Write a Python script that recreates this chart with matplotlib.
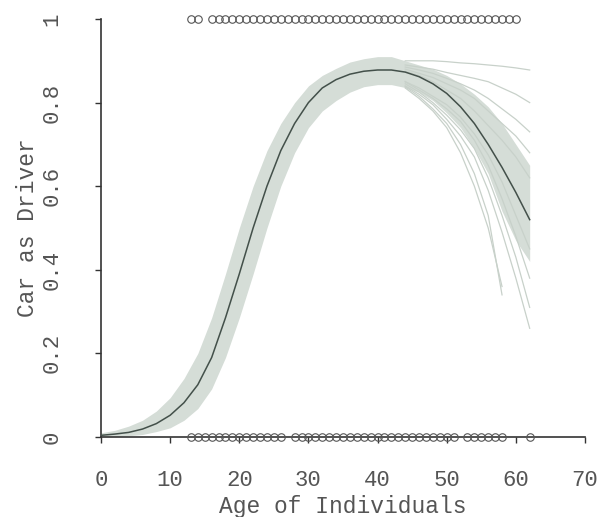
import matplotlib
matplotlib.use("Agg")
import matplotlib.pyplot as plt
import numpy as np

# ---- data ----
ages_driver = [13, 14] + list(range(16, 61))
ages_not_driver = list(range(13, 27)) + list(range(28, 52)) + list(range(53, 59)) + [62]

fit_ages = [0, 2, 4, 6, 8, 10, 12, 14, 16, 18, 20, 22, 24, 26, 28, 30,
            32, 34, 36, 38, 40, 42, 44, 46, 48, 50, 52, 54, 56, 58, 60, 62]
fit_prob = [0.004, 0.007, 0.011, 0.019, 0.032, 0.052, 0.082, 0.125, 0.19, 0.285, 0.39, 0.50,
            0.60, 0.685, 0.75, 0.80, 0.835, 0.855, 0.868, 0.875, 0.878, 0.878, 0.873, 0.862,
            0.845, 0.822, 0.79, 0.75, 0.70, 0.645, 0.585, 0.52]
band_lower = [0.000, 0.001, 0.003, 0.006, 0.013, 0.022, 0.040, 0.068, 0.115, 0.19, 0.285, 0.39,
              0.50, 0.60, 0.68, 0.74, 0.78, 0.805, 0.825, 0.838, 0.843, 0.843, 0.836, 0.825,
              0.805, 0.775, 0.74, 0.69, 0.63, 0.54, 0.47, 0.42]
band_upper = [0.010, 0.016, 0.026, 0.040, 0.062, 0.094, 0.14, 0.20, 0.285, 0.39, 0.50, 0.60,
              0.685, 0.75, 0.80, 0.84, 0.865, 0.882, 0.897, 0.905, 0.91, 0.91, 0.90, 0.89,
              0.88, 0.865, 0.845, 0.82, 0.79, 0.75, 0.70, 0.65]

fan_ages = [44, 46, 48, 50, 52, 54, 56, 58, 60, 62]
fan_lines = [
    [0.90, 0.90, 0.90, 0.898, 0.895, 0.893, 0.89, 0.887, 0.883, 0.878],
    [0.89, 0.885, 0.88, 0.872, 0.865, 0.858, 0.85, 0.835, 0.82, 0.80],
    [0.885, 0.878, 0.87, 0.858, 0.845, 0.83, 0.81, 0.785, 0.76, 0.73],
    [0.88, 0.87, 0.86, 0.845, 0.83, 0.81, 0.78, 0.75, 0.72, 0.68],
    [0.875, 0.865, 0.85, 0.83, 0.81, 0.78, 0.745, 0.71, 0.67, 0.62],
    [0.835, 0.81, 0.78, 0.74, 0.68, 0.60, 0.50, 0.36, np.nan, np.nan],
    [0.838, 0.815, 0.785, 0.75, 0.70, 0.63, 0.53, 0.34, np.nan, np.nan],
    [0.84, 0.82, 0.795, 0.76, 0.72, 0.67, 0.59, 0.49, 0.38, 0.26],
    [0.845, 0.825, 0.80, 0.77, 0.735, 0.69, 0.62, 0.53, 0.43, 0.31],
    [0.85, 0.83, 0.81, 0.785, 0.755, 0.71, 0.65, 0.57, 0.48, 0.38],
    [0.85, 0.835, 0.815, 0.795, 0.765, 0.725, 0.675, 0.61, 0.53, 0.45],
]

xticks = [0, 10, 20, 30, 40, 50, 60, 70]
yticks = [0, 0.2, 0.4, 0.6, 0.8, 1]
yticklabels = ["0", "0.2", "0.4", "0.6", "0.8", "1"]

# ---- figure ----
W, H = 601, 517
fig = plt.figure(figsize=(W / 100, H / 100), dpi=100)
ax = fig.add_axes([101 / W, 1 - 437 / H, 484 / W, 418 / H])

font = "Liberation Mono"
txt_color = "#555555"
band_color = "#d5ddd7"

ax.fill_between(fit_ages, band_lower, band_upper, color=band_color, lw=0, zorder=1)
for ys in fan_lines:
    ax.plot(fan_ages, ys, color="#c8d1ca", lw=0.9, zorder=1.5)
ax.plot(fit_ages, fit_prob, color="#43504a", lw=1.1, zorder=3)

ax.plot(ages_driver, [1] * len(ages_driver), linestyle="none", marker="o", ms=5.4,
        mfc="none", mec="#555555", mew=0.8, clip_on=False, zorder=4)
ax.plot(ages_not_driver, [0] * len(ages_not_driver), linestyle="none", marker="o", ms=5.4,
        mfc="none", mec="#555555", mew=0.8, clip_on=False, zorder=4)

ax.set_xlim(0, 70)
ax.set_ylim(0, 1)
for s in ["top", "right"]:
    ax.spines[s].set_visible(False)
for s in ["left", "bottom"]:
    ax.spines[s].set_color("#333333")
    ax.spines[s].set_linewidth(1.2)

ax.set_xticks(xticks)
ax.set_xticklabels([str(v) for v in xticks], fontfamily=font, fontsize=16, color=txt_color)
ax.set_yticks(yticks)
ax.set_yticklabels(yticklabels, fontfamily=font, fontsize=16, color=txt_color,
                   rotation=90, va="center")
ax.tick_params(axis="x", length=4.5, width=1, color="#333333", pad=19)
ax.tick_params(axis="y", length=4.5, width=1, color="#333333", pad=23)

fig.text(343 / W, 1 - 506 / H, "Age of Individuals", fontfamily=font, fontsize=16.5,
         color=txt_color, ha="center", va="center")
fig.text(28 / W, 1 - 228 / H, "Car as Driver", fontfamily=font, fontsize=16.5,
         color=txt_color, ha="center", va="center", rotation=90)

fig.savefig("out.png", dpi=100)
